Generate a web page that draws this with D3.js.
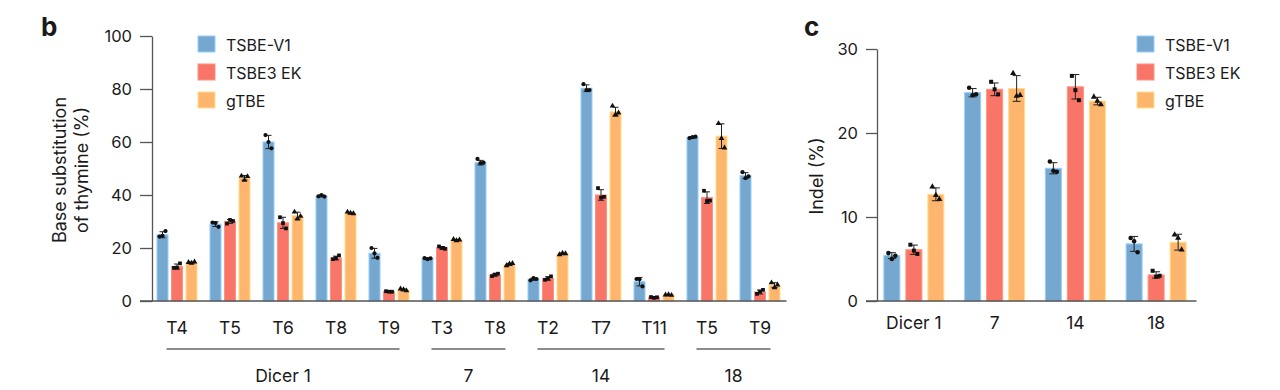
<!DOCTYPE html>
<html><head><meta charset="utf-8">
<script src="https://cdn.jsdelivr.net/npm/d3@7"></script>
<style>
body{margin:0;background:#fff}
svg text{font-family:Inter,"Noto Sans",sans-serif;fill:#1a1a1a}
</style>
</head><body><svg id="chart" width="1280" height="390"></svg>
<script>
// ---------- data ----------
const seriesNames = ["TSBE-V1", "TSBE3 EK", "gTBE"];
const seriesColors = ["#76a7ce", "#f97567", "#feb56d"];

// panel b
const bSites = ["T4", "T5", "T6", "T8", "T9", "T3", "T8", "T2", "T7", "T11", "T5", "T9"];
const bSiteGroup = ["Dicer 1", "Dicer 1", "Dicer 1", "Dicer 1", "Dicer 1", "7", "7", "14", "14", "14", "18", "18"];
const bGroups = ["Dicer 1", "7", "14", "18"];
const bTicks = [0, 20, 40, 60, 80, 100];
const bV1 = [25, 29, 60, 39.6, 18, 16, 52.2, 8.2, 80.3, 7.3, 61.8, 47.3];
const bEK = [13, 30, 29.5, 16.2, 3.6, 20.1, 9.8, 8.5, 40, 1.4, 39, 3.4];
const bGT = [14.5, 46.5, 32.2, 33.2, 4.2, 23, 13.8, 17.8, 71.4, 2.3, 62.2, 6];
const bV1Reps = [[24.3, 24.6, 26.4], [29.6, 29.4, 28], [62.6, 60, 57.6], [39.5, 40, 39.4], [20, 18, 16.3], [16.2, 15.8, 16.1], [53.6, 52, 52.2], [7.8, 8.6, 8.3], [81.8, 79.6, 79.6], [8.3, 8.2, 5.5], [61.5, 61.8, 62], [48.6, 46.4, 47]];
const bEKReps = [[12.5, 12.6, 14.2], [29.2, 30.6, 30.2], [31.6, 29.4, 27.4], [15.8, 16.2, 17.2], [3.7, 3.5, 3.5], [20.6, 20, 19.7], [9.4, 10, 10.3], [8, 8.5, 9.3], [42.6, 39, 39.3], [1.5, 1.2, 1.4], [41.6, 37.7, 37.9], [2.7, 3.5, 4.2]];
const bGTReps = [[14.6, 14.3, 14.8], [47.2, 45.6, 47], [33.6, 31, 32], [33.6, 33.2, 33], [4.6, 4.3, 3.9], [23.3, 22.8, 23.1], [13.4, 14, 14.2], [17.5, 18.1, 17.9], [73.6, 70.4, 71], [2.3, 2.4, 2.2], [67, 61.4, 57.8], [6.9, 5.1, 6.1]];

// panel c
const cCategories = ["Dicer 1", "7", "14", "18"];
const cTicks = [0, 10, 20, 30];
const cV1 = [5.4, 24.8, 15.8, 6.8];
const cEK = [6.1, 25.2, 25.5, 3.1];
const cGT = [12.7, 25.3, 23.8, 7];
const cV1Reps = [[5.7, 5.0, 5.4], [25.4, 24.5, 24.6], [16.6, 15.5, 15.4], [7.5, 7.1, 5.8]];
const cEKReps = [[6.7, 6.0, 5.6], [26.1, 25.2, 24.6], [26.8, 25.1, 23.9], [3.6, 2.9, 3.0]];
const cGTReps = [[13.6, 12.6, 12.1], [27.1, 24.4, 24.5], [24.3, 23.8, 23.4], [7.9, 7.5, 6.1]];

// ---------- drawing ----------
const svg = d3.select("#chart");
const symbolTypes = [d3.symbolCircle, d3.symbolSquare, d3.symbolTriangle];

function drawPanel(opt) {
  const g = svg.append("g");
  const keys = opt.cats.map((c, i) => i);
  const x = d3.scaleBand().domain(keys).range(opt.xRange).padding(0);
  const y = d3.scaleLinear().domain(opt.yDomain).range(opt.yRange);

  // bars
  opt.means.forEach((arr, s) => {
    g.selectAll(null).data(arr).enter().append("rect")
      .attr("x", (d, i) => x(i) + x.bandwidth() / 2 + (s - 1) * opt.offset - opt.barW / 2)
      .attr("y", d => y(d))
      .attr("width", opt.barW)
      .attr("height", d => y(0) - y(d))
      .attr("fill", seriesColors[s])
      .attr("stroke", d3.color(seriesColors[s]).brighter(0.6))
      .attr("stroke-width", 1);
  });

  // error bars + points
  opt.reps.forEach((arr, s) => {
    arr.forEach((reps, i) => {
      const cx = x(i) + x.bandwidth() / 2 + (s - 1) * opt.offset;
      const m = opt.means[s][i];
      const sd = d3.deviation(reps);
      const eg = g.append("g").attr("stroke", "#222").attr("stroke-width", 1);
      eg.append("line").attr("x1", cx).attr("x2", cx).attr("y1", y(m - sd)).attr("y2", y(m + sd));
      [m - sd, m + sd].forEach(v => eg.append("line")
        .attr("x1", cx - opt.cap).attr("x2", cx + opt.cap).attr("y1", y(v)).attr("y2", y(v)));
      const sym = d3.symbol().type(symbolTypes[s]).size(opt.symSize);
      reps.forEach((v, k) => {
        g.append("path").attr("d", sym)
          .attr("transform", `translate(${cx + (k - 1) * opt.jitter},${y(v)})`)
          .attr("fill", "#111");
      });
    });
  });

  // y axis
  const ax = g.append("g").attr("transform", `translate(${opt.axisX},0)`)
    .call(d3.axisLeft(y).tickValues(opt.ticks).tickSize(opt.tickLen).tickSizeOuter(0).tickPadding(8));
  ax.select(".domain").attr("stroke", "#555").attr("stroke-width", 1.3);
  ax.selectAll(".tick line").attr("stroke", "#555").attr("stroke-width", 1.3);
  ax.selectAll(".tick text").style("font-size", "16.5px").attr("fill", "#1a1a1a");
  // baseline
  g.append("line").attr("x1", opt.axisX - opt.tickLen).attr("x2", opt.xRange[1])
    .attr("y1", y(0)).attr("y2", y(0)).attr("stroke", "#555").attr("stroke-width", 1.3);

  // category labels
  g.selectAll(null).data(opt.cats).enter().append("text")
    .attr("x", (d, i) => x(i) + x.bandwidth() / 2)
    .attr("y", opt.catY)
    .attr("text-anchor", "middle")
    .style("font-size", "17.5px")
    .text(d => d);

  // legend
  seriesNames.forEach((n, s) => {
    g.append("rect").attr("x", opt.legX).attr("y", 36 + s * 28).attr("width", 17).attr("height", 16)
      .attr("fill", seriesColors[s]).attr("stroke", d3.color(seriesColors[s]).brighter(0.6));
    g.append("text").attr("x", opt.legX + 28).attr("y", 50.5 + s * 28)
      .style("font-size", "16px").text(n);
  });
  return {x, y, g};
}

// panel b
const pb = drawPanel({
  cats: bSites, means: [bV1, bEK, bGT], reps: [bV1Reps, bEKReps, bGTReps],
  xRange: [150.5, 786.5], yDomain: [0, 100], yRange: [301, 36],
  barW: 11, offset: 14.5, cap: 3, jitter: 3, symSize: 14,
  axisX: 152, tickLen: 12, ticks: bTicks, catY: 333.5, legX: 198
});
// group brackets for b
bGroups.forEach(gname => {
  const idx = bSiteGroup.map((g, i) => g === gname ? i : -1).filter(i => i >= 0);
  const x0 = pb.x(idx[0]) + 16;
  const x1 = pb.x(idx[idx.length - 1]) + pb.x.bandwidth() - 16;
  pb.g.append("line").attr("x1", x0).attr("x2", x1).attr("y1", 349).attr("y2", 349)
    .attr("stroke", "#8c8c8c").attr("stroke-width", 2);
  pb.g.append("text").attr("x", (x0 + x1) / 2).attr("y", 382).attr("text-anchor", "middle")
    .style("font-size", "17.5px").text(gname);
});
// axis title b
svg.append("text").attr("transform", "translate(66,170) rotate(-90)").attr("text-anchor", "middle")
  .style("font-size", "18px").text("Base substitution");
svg.append("text").attr("transform", "translate(88,170) rotate(-90)").attr("text-anchor", "middle")
  .style("font-size", "18px").text("of thymine (%)");
svg.append("text").attr("x", 41).attr("y", 36).style("font-size", "26px").style("font-weight", "700").text("b");

// panel c
drawPanel({
  cats: cCategories, means: [cV1, cEK, cGT], reps: [cV1Reps, cEKReps, cGTReps],
  xRange: [873.5, 1196.5], yDomain: [0, 30], yRange: [301, 49],
  barW: 16, offset: 22, cap: 4, jitter: 3.5, symSize: 16,
  axisX: 877, tickLen: 11, ticks: cTicks, catY: 328.5, legX: 1137
});
svg.append("text").attr("transform", "translate(823,176) rotate(-90)").attr("text-anchor", "middle")
  .style("font-size", "18px").text("Indel (%)");
svg.append("text").attr("x", 804).attr("y", 36).style("font-size", "26px").style("font-weight", "700").text("c");
</script>
</body></html>
